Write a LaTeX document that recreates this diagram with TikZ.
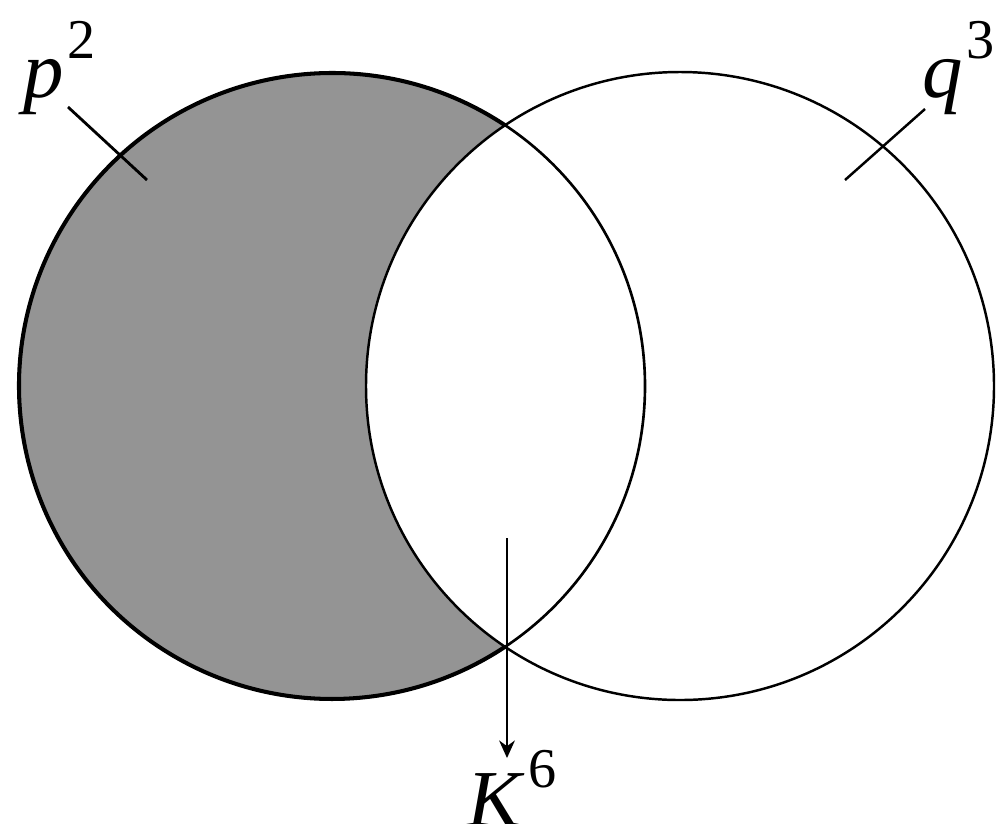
\documentclass[tikz,border=0pt]{standalone}
\usepackage{fontspec}
\setmainfont{Liberation Serif}
\usetikzlibrary{arrows.meta,calc}
\newcommand{\lblsup}[2]{\textit{#1}\kern2pt\raisebox{1.05ex}{\fontsize{32}{34}\selectfont #2}}
\begin{document}
\begin{tikzpicture}[x=0.02cm,y=-0.02cm,every node/.style={font=\fontsize{46}{50}\selectfont,inner sep=0pt}]
 \useasboundingbox (0,0) rectangle (997,823);
 \coordinate (cp) at (332,386);
 \coordinate (cq) at (680,386);
 \fill[black!42] (cp) circle (313);
 \fill[white] (cq) circle (314);
 \draw[line width=1.5pt] (cp) circle (313);
 \draw[line width=1.4pt] (cq) circle (314);
 \draw[line width=2.3pt] ($(cp)+(-56.4:313)$) arc[start angle=-56.4,end angle=-303.6,radius=313];
 \node[anchor=center] (p2) at (60,68) {\lblsup{p}{2}};
 \node[anchor=center] (q3) at (959,68) {\lblsup{q}{3}};
 \node[anchor=north] (k6) at (512,750) {\lblsup{K}{6}};
 \coordinate (pa) at (68,107);
 \coordinate (pb) at (147,180);
 \coordinate (qa) at (925,109);
 \coordinate (qb) at (845,180);
 \coordinate (ka) at (507,538);
 \coordinate (kb) at (507,758);
 \draw[line width=1.6pt] (pa)--(pb);
 \draw[line width=1.4pt] (qa)--(qb);
 \draw[line width=1pt,-{Stealth[length=10pt,width=9pt]}] (ka)--(kb);
\end{tikzpicture}
\end{document}
